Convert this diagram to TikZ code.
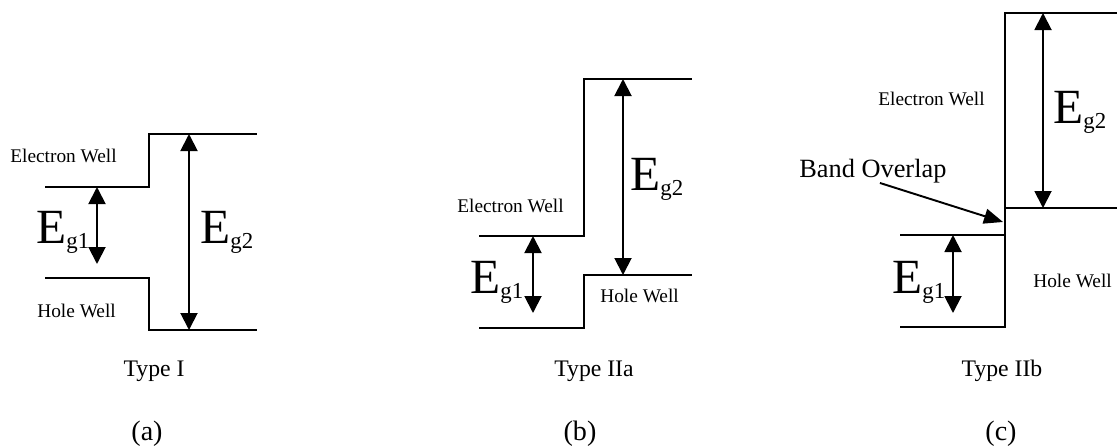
\documentclass[tikz,border=0pt]{standalone}
\usepackage{fontspec}
\setmainfont{Liberation Serif}
\usetikzlibrary{arrows.meta,positioning}
\newcommand{\Egap}[1]{{\fontsize{28}{30}\selectfont E}\raisebox{-0.1cm}{\fontsize{13}{15}\selectfont g#1}}
\tikzset{
  band/.style={line width=1.1pt},
  % double-headed gap arrows
  arr/.style={{Triangle[length=0.34cm,width=0.34cm]}-{Triangle[length=0.34cm,width=0.34cm]},
    line width=1.1pt},
  ptr/.style={-{Triangle[length=0.38cm,width=0.3cm]},line width=1.1pt},
  well/.style={font=\fontsize{11}{13}\selectfont,anchor=base west,inner sep=0pt},
  eglab/.style={anchor=base west,inner sep=0pt},
  typelab/.style={font=\fontsize{13.5}{16}\selectfont,anchor=base,inner sep=0pt},
  panlab/.style={font=\fontsize{16}{19}\selectfont,anchor=base,inner sep=0pt}
}
\begin{document}
\begin{tikzpicture}[x=0.02cm,y=-0.02cm]
  \useasboundingbox (0,0) rectangle (1117,447);
  % band edges: left level, step, right level
  \foreach \l/\m/\r/\ya/\yb in {45/149/257/187/134, 45/149/257/278/330,
      479/584/692/236/79, 479/584/692/328/275,
      900/1005/1117/235/13, 900/1005/1117/327/208}
    \draw[band] (\l,\ya) -| (\m,\yb) -- (\r,\yb);
  % (a) Type I
  \coordinate (a1t) at (97,187);   \coordinate (a1b) at (97,264);
  \coordinate (a2t) at (189,134);  \coordinate (a2b) at (189,330);
  \draw[arr] (a1t) -- (a1b);
  \draw[arr] (a2t) -- (a2b);
  \node[eglab] (aeg1) at (36,243) {\Egap{1}};
  \node[eglab] (aeg2) at (200,243) {\Egap{2}};
  \node[well] (aew) at (10,162) {Electron Well};
  \node[well] (ahw) at (37,317) {Hole Well};
  \node[typelab] (atype) at (154,376) {Type I};
  \node[panlab] (apan) at (147,440) {(a)};
  % (b) Type IIa
  \coordinate (b1t) at (533,236);  \coordinate (b1b) at (533,313);
  \coordinate (b2t) at (623,79);   \coordinate (b2b) at (623,275);
  \draw[arr] (b1t) -- (b1b);
  \draw[arr] (b2t) -- (b2b);
  \node[eglab] (beg1) at (470,293) {\Egap{1}};
  \node[eglab] (beg2) at (630,190) {\Egap{2}};
  \node[well] (bew) at (457,212) {Electron Well};
  \node[well] (bhw) at (600,302) {Hole Well};
  \node[typelab] (btype) at (594,376) {Type IIa};
  \node[panlab] (bpan) at (580,440) {(b)};
  % (c) Type IIb
  \coordinate (c1t) at (953,235);  \coordinate (c1b) at (953,313);
  \coordinate (c2t) at (1043,13);  \coordinate (c2b) at (1043,208);
  \draw[arr] (c1t) -- (c1b);
  \draw[arr] (c2t) -- (c2b);
  \node[eglab] (ceg1) at (892,293) {\Egap{1}};
  \node[eglab] (ceg2) at (1053,123) {\Egap{2}};
  \node[well] (cew) at (878,105) {Electron Well};
  \node[well] (chw) at (1033,287) {Hole Well};
  \node[eglab,font=\fontsize{15}{18}\selectfont] (cbo) at (799,177) {Band Overlap};
  \coordinate (cbotip) at (1003,222);
  \draw[ptr] ([xshift=4]cbo.south) -- (cbotip);
  \node[typelab] (ctype) at (1002,376) {Type IIb};
  \node[panlab] (cpan) at (1001,440) {(c)};
\end{tikzpicture}
\end{document}
